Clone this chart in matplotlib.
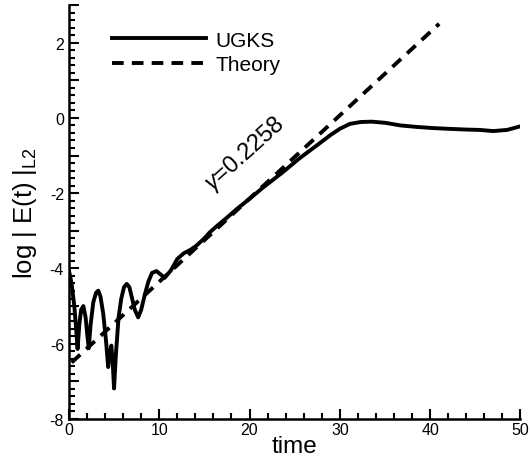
import matplotlib.pyplot as plt
from matplotlib.ticker import MultipleLocator, FuncFormatter

plt.rcParams['font.family'] = ['Liberation Sans', 'DejaVu Sans']
plt.rcParams['mathtext.fontset'] = 'custom'
plt.rcParams['mathtext.rm'] = 'Liberation Sans'
plt.rcParams['mathtext.it'] = 'Liberation Sans:italic'

# UGKS result
ugks_t = [0, 0.3, 0.6, 0.8, 0.96, 1.15, 1.35, 1.6, 1.85, 2.05, 2.2, 2.4, 2.7,
          3.0, 3.25, 3.5, 3.8, 4.1, 4.35, 4.5, 4.7, 4.85, 5.0, 5.2, 5.5, 5.8,
          6.1, 6.4, 6.7, 7.0, 7.3, 7.67, 8.0, 8.4, 8.8, 9.2, 9.7, 10.1, 10.6,
          11.3, 12.0, 12.7, 13.5, 14.1, 15.0, 15.6, 16.5, 17.5, 18.6, 20.0,
          21.5, 23.7, 25.5, 27.4, 29.0, 30.0, 31.1, 32.3, 33.5, 35.0, 36.7,
          38.5, 40.3, 42.0, 44.0, 45.5, 47.0, 48.5, 49.9]
ugks_e = [-4.05, -4.4, -5.0, -5.6, -6.14, -5.5, -5.1, -5.0, -5.3, -5.8, -6.12,
          -5.5, -4.9, -4.65, -4.59, -4.75, -5.2, -5.9, -6.62, -6.3, -6.05,
          -6.5, -7.19, -6.3, -5.3, -4.8, -4.5, -4.41, -4.5, -4.8, -5.1, -5.3,
          -5.1, -4.7, -4.35, -4.12, -4.07, -4.15, -4.25, -4.05, -3.75, -3.6,
          -3.5, -3.4, -3.2, -3.04, -2.85, -2.65, -2.42, -2.15, -1.85, -1.44,
          -1.08, -0.74, -0.45, -0.29, -0.16, -0.11, -0.1, -0.13, -0.2, -0.24,
          -0.27, -0.29, -0.31, -0.32, -0.35, -0.32, -0.23]

# theory: straight line with growth rate 0.2258
theory_t = [0.3, 41]
theory_e = [-6.5, 2.5]

fig = plt.figure(figsize=(5.3, 4.6), dpi=100)
ax = fig.add_axes([0.130, 0.087, 0.852, 0.90])

ax.plot(ugks_t, ugks_e, color='black', lw=2.8, label='UGKS')
ax.plot(theory_t, theory_e, color='black', lw=2.8, dashes=(3, 2.1), label='Theory')

ax.set_xlim(0, 50)
ax.set_ylim(-8, 3)
ax.xaxis.set_major_locator(MultipleLocator(10))
ax.xaxis.set_minor_locator(MultipleLocator(2))
ax.yaxis.set_major_locator(MultipleLocator(1))
ax.yaxis.set_minor_locator(MultipleLocator(0.2))
ax.yaxis.set_major_formatter(FuncFormatter(lambda v, p: '%d' % v if round(v) % 2 == 0 else ''))

for s in ['top', 'right']:
    ax.spines[s].set_visible(False)
for s in ['left', 'bottom']:
    ax.spines[s].set_linewidth(1.8)
ax.tick_params(which='both', direction='in', labelsize=11.5, width=1.5)
ax.tick_params(which='major', length=7)
ax.tick_params(which='minor', length=4)
ax.tick_params(axis='x', pad=2)

ax.set_xlabel('time', fontsize=17.5, labelpad=-1)
ax.set_ylabel('log | E(t) |$_{\\mathrm{ L2}}$', fontsize=18.5, labelpad=8)

ax.text(19.5, -0.95, '$\\gamma$=0.2258', fontsize=17, rotation=42,
        ha='center', va='center')

ax.legend(loc='upper left', bbox_to_anchor=(0.053, 0.983), frameon=False,
          fontsize=15, handlelength=4.55, handletextpad=0.45, labelspacing=0.25)

plt.savefig('out.png', dpi=100)
